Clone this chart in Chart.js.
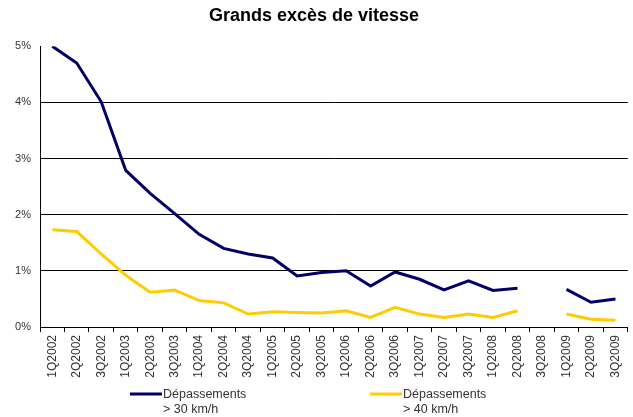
<!DOCTYPE html>
<html lang="fr">
<head>
    <meta charset="UTF-8">
    <title>Grands excès de vitesse</title>
    <style>
        body { margin: 0; background: #fff; }
        canvas { display: block; }
    </style>
</head>
<body>
    <canvas id="speedChart" width="633" height="417"></canvas>

    <script src="https://cdn.jsdelivr.net/npm/chart.js"></script>
    <script>
        // Quarters on the x axis
        const quarters = ['1Q2002', '2Q2002', '3Q2002', '1Q2003', '2Q2003', '3Q2003',
            '1Q2004', '2Q2004', '3Q2004', '1Q2005', '2Q2005', '3Q2005',
            '1Q2006', '2Q2006', '3Q2006', '1Q2007', '2Q2007', '3Q2007',
            '1Q2008', '2Q2008', '3Q2008', '1Q2009', '2Q2009', '3Q2009'];

        // Share of speed excesses, in %
        const over30 = [5.00, 4.70, 4.01, 2.79, 2.38, 2.02, 1.65, 1.40, 1.30, 1.23, 0.91, 0.97,
            1.00, 0.73, 0.98, 0.85, 0.66, 0.82, 0.65, 0.69, null, 0.67, 0.44, 0.50];
        const over40 = [1.73, 1.70, 1.30, 0.92, 0.62, 0.66, 0.47, 0.43, 0.23, 0.27, 0.26, 0.25,
            0.29, 0.17, 0.35, 0.23, 0.17, 0.23, 0.17, 0.29, null, 0.23, 0.14, 0.12];

        const yTicks = [0, 1, 2, 3, 4, 5];

        const legendItems = [
            { color: '#000066', lines: ['Dépassements', '> 30 km/h'] },
            { color: '#FFCC00', lines: ['Dépassements', '> 40 km/h'] }
        ];

        const FONT = "'Liberation Sans', Arial, sans-serif";

        // Two-line legend under the axis, drawn by hand
        const bottomLegend = {
            id: 'bottomLegend',
            afterDraw(chart) {
                const ctx = chart.ctx;
                const area = chart.chartArea;
                const y = area.bottom + 67;
                ctx.save();
                ctx.font = '12.5px ' + FONT;
                ctx.textBaseline = 'middle';
                ctx.fillStyle = '#333';
                legendItems.forEach((item, i) => {
                    const x = area.left + 90 + i * 240;
                    ctx.strokeStyle = item.color;
                    ctx.lineWidth = 3;
                    ctx.beginPath();
                    ctx.moveTo(x, y);
                    ctx.lineTo(x + 32, y);
                    ctx.stroke();
                    item.lines.forEach((line, j) => {
                        ctx.fillText(line, x + 33, y + 1 + j * 15);
                    });
                });
                ctx.restore();
            }
        };

        new Chart(document.getElementById('speedChart'), {
            type: 'line',
            data: {
                labels: quarters,
                datasets: [{
                    label: 'Dépassements > 30 km/h',
                    data: over30,
                    borderColor: '#000066',
                    borderWidth: 3,
                    pointRadius: 0,
                    tension: 0,
                    spanGaps: false
                }, {
                    label: 'Dépassements > 40 km/h',
                    data: over40,
                    borderColor: '#FFCC00',
                    borderWidth: 3,
                    pointRadius: 0,
                    tension: 0,
                    spanGaps: false
                }]
            },
            options: {
                responsive: false,
                animation: false,
                layout: { padding: { left: 0, right: 5, top: 0, bottom: 30 } },
                plugins: {
                    legend: { display: false },
                    tooltip: { enabled: false },
                    title: {
                        display: true,
                        text: 'Grands excès de vitesse',
                        color: '#000',
                        font: { family: FONT, size: 18, weight: 'bold' },
                        padding: { top: 5, bottom: 19.6 }
                    }
                },
                scales: {
                    x: {
                        offset: true,
                        grid: { offset: true, drawOnChartArea: false, drawTicks: true, tickLength: 5, color: '#000' },
                        border: { color: '#000', width: 1 },
                        ticks: {
                            autoSkip: false,
                            minRotation: 90,
                            maxRotation: 90,
                            padding: 3,
                            color: '#333',
                            font: { family: FONT, size: 12 }
                        },
                        afterFit: s => { s.height = 60; }
                    },
                    y: {
                        min: 0,
                        max: 5,
                        afterBuildTicks: s => { s.ticks = yTicks.map(v => ({ value: v })); },
                        grid: {
                            drawTicks: false,
                            color: c => (c.tick && c.tick.value > 0 && c.tick.value < 5) ? '#000' : 'rgba(0,0,0,0)'
                        },
                        border: { color: '#000', width: 1 },
                        ticks: {
                            padding: 9,
                            color: '#333',
                            font: { family: FONT, size: 11 },
                            callback: v => v + '%'
                        },
                        afterFit: s => { s.width = 40; }
                    }
                }
            },
            plugins: [bottomLegend]
        });
    </script>
</body>
</html>
